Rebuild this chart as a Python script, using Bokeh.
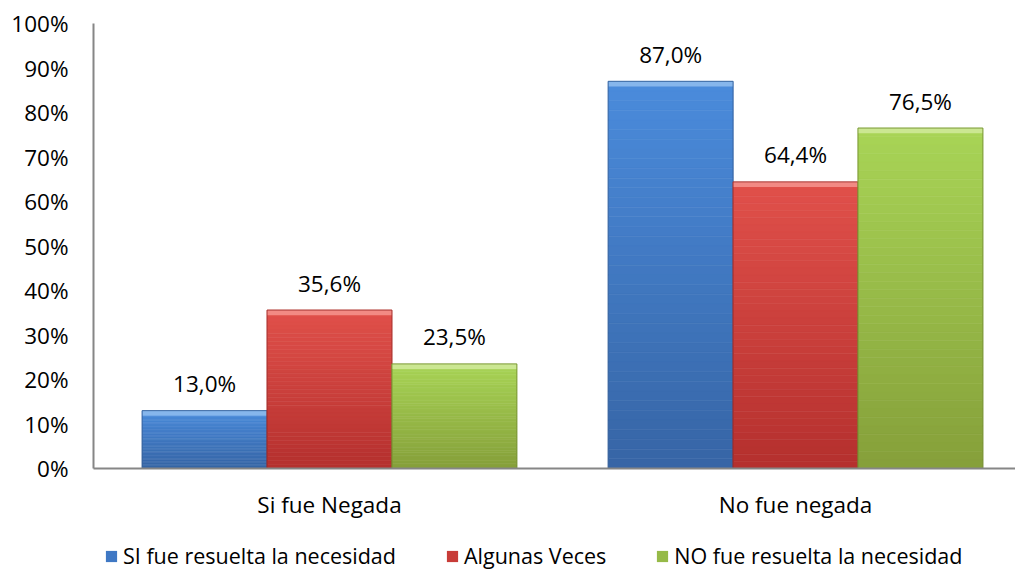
import numpy as np
from bokeh.plotting import figure
from bokeh.layouts import column
from bokeh.models import ColumnDataSource, Range1d, FixedTicker, Legend, LegendItem
from bokeh.core.properties import value
from bokeh.embed import file_html
from bokeh.resources import INLINE

# ---- data ----
categories = ["Si fue Negada", "No fue negada"]
series_names = ["SI fue resuelta la necesidad", "Algunas Veces", "NO fue resuelta la necesidad"]
si_resuelta = [13.0, 87.0]
algunas_veces = [35.6, 64.4]
no_resuelta = [23.5, 76.5]
y_tick_values = [0, 10, 20, 30, 40, 50, 60, 70, 80, 90, 100]
y_tick_labels = ["0%", "10%", "20%", "30%", "40%", "50%", "60%", "70%", "80%", "90%", "100%"]

# ---- styles ----
top_colors = ["#4A8BDB", "#E0504A", "#A8D456"]
bottom_colors = ["#3765A6", "#B5302E", "#86A03A"]
bevel_colors = ["#86B6EC", "#F28A84", "#CBE792"]
edge_colors = ["#2F5A92", "#9A2826", "#6F8A2C"]
legend_colors = ["#3F78C4", "#C83C38", "#96BA48"]
FONT = "Open Sans"

def hex2rgb(h):
    h = h.lstrip("#")
    return np.array([int(h[i:i + 2], 16) for i in (0, 2, 4)], dtype=float)

def mix(c1, c2, t):
    a, b = hex2rgb(c1), hex2rgb(c2)
    c = a + (b - a) * t
    return "#%02x%02x%02x" % tuple(int(round(v)) for v in c)

p = figure(width=1015, height=528, output_backend="svg", toolbar_location=None,
           x_range=Range1d(-0.0064, 1.972), y_range=Range1d(0, 100),
           min_border_left=93, min_border_right=0, min_border_top=23, min_border_bottom=60)
p.outline_line_color = None
p.xgrid.grid_line_color = None
p.ygrid.grid_line_color = None

series = [si_resuelta, algunas_veces, no_resuelta]
bar_w = 0.268
offsets = [-bar_w, 0.0, bar_w]
N = 40
bevel = 1.15  # ~5px
cat_pos = [i + 0.5 for i in range(len(categories))]

for s, vals in enumerate(series):
    xs, bots, tops, cols = [], [], [], []
    for c, v in enumerate(vals):
        for k in range(N):
            xs.append(cat_pos[c] + offsets[s])
            bots.append(v * (N - 1 - k) / N)
            tops.append(v * (N - k) / N)
            cols.append(mix(top_colors[s], bottom_colors[s], k / (N - 1)))
    src = ColumnDataSource(dict(x=xs, bottom=bots, top=tops, color=cols))
    p.vbar(x="x", bottom="bottom", top="top", width=bar_w, fill_color="color",
           line_color="color", line_width=0.6, source=src)
    bx = [cat_pos[c] + offsets[s] for c in range(len(vals))]
    # bevel at top
    p.vbar(x=bx, bottom=[v - bevel for v in vals], top=vals, width=bar_w,
           fill_color=bevel_colors[s], line_color=None)
    # outline
    p.vbar(x=bx, bottom=0, top=vals, width=bar_w, fill_color=None,
           line_color=edge_colors[s], line_width=1, line_alpha=0.8)
    # labels
    labels = [("%.1f" % v).replace(".", ",") + "%" for v in vals]
    p.text(x=bx, y=vals, text=labels, text_align="center", text_baseline="alphabetic",
           y_offset=-27, text_font=value(FONT), text_font_size="22.5px", text_color="#000000")

# axes
p.yaxis.ticker = FixedTicker(ticks=y_tick_values)
p.yaxis.major_label_overrides = {t: l for t, l in zip(y_tick_values, y_tick_labels)}
p.xaxis.ticker = FixedTicker(ticks=cat_pos)
p.xaxis.major_label_overrides = {t: l for t, l in zip(cat_pos, categories)}
for ax in (p.xaxis, p.yaxis):
    ax.axis_line_color = "#868686"
    ax.axis_line_width = 2
    ax.major_tick_line_color = None
    ax.minor_tick_line_color = None
    ax.major_label_text_font = FONT
    ax.major_label_text_font_size = "22.5px"
    ax.major_label_text_color = "#000000"
p.yaxis.major_label_standoff = 19
p.xaxis.major_label_standoff = 14

# ---- legend strip (separate small figure below the chart) ----
# its renderers carry the series data but the strip's y-range keeps the bars far out of view;
# they only provide the legend swatches.
pl = figure(width=1015, height=42, output_backend="svg", toolbar_location=None,
            x_axis_location=None, y_axis_location=None,
            x_range=Range1d(-0.0064, 1.972), y_range=Range1d(1000, 1001),
            min_border_left=0, min_border_right=0, min_border_top=0, min_border_bottom=0)
pl.outline_line_color = None
pl.xgrid.grid_line_color = None
pl.ygrid.grid_line_color = None
items = []
for s, vals in enumerate(series):
    bx = [cat_pos[c] + offsets[s] for c in range(len(vals))]
    r = pl.vbar(x=bx, top=vals, bottom=0, width=bar_w, fill_color=legend_colors[s],
                line_color=None)
    items.append(LegendItem(label=series_names[s], renderers=[r], index=0))
legend = Legend(items=items, orientation="horizontal", location=(11, 0),
                label_text_font=FONT, label_text_font_size="21.5px", label_text_color="#000000",
                glyph_width=14, glyph_height=14, label_standoff=5, spacing=49,
                padding=0, margin=0, border_line_color=None, background_fill_alpha=0)
pl.add_layout(legend, "center")

layout = column(p, pl, spacing=0)
open("out.html", "w").write(file_html(layout, INLINE))
